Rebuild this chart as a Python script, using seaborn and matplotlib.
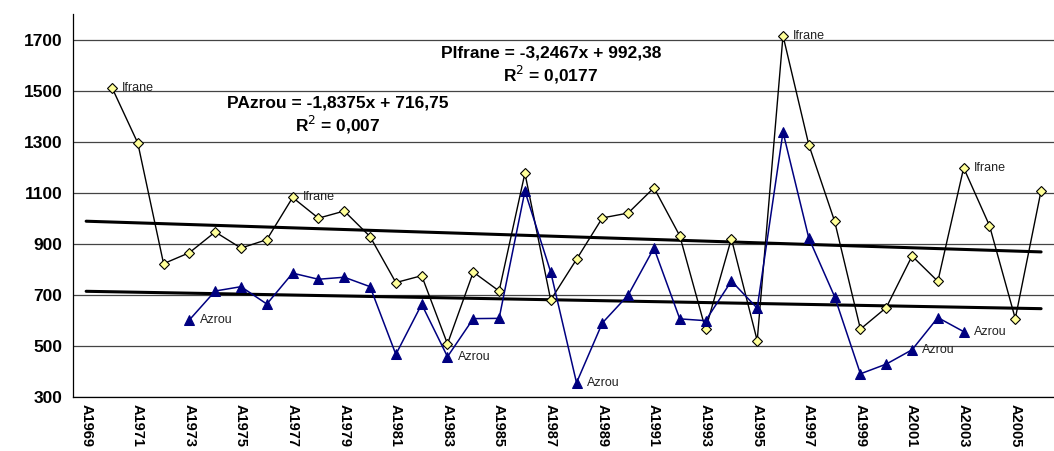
import numpy as np
import pandas as pd
import matplotlib
matplotlib.use("Agg")
import matplotlib.pyplot as plt
import seaborn as sns

# categories A1969 .. A2006
years = [f"A{y}" for y in range(1969, 2007)]

# Ifrane starts at A1970, Azrou at A1973
ifrane = [None, 1512, 1295, 823, 866, 947, 884, 917, 1082, 1001, 1029, 929,
          749, 776, 509, 790, 716, 1177, 681, 840, 1002, 1021, 1120, 932,
          566, 921, 522, 1715, 1288, 989, 567, 651, 853, 754, 1198, 972,
          608, 1109]
azrou = [None, None, None, None, 603, 716, 733, 665, 786, 762, 770, 733,
         468, 664, 459, 608, 609, 1107, 790, 357, 591, 700, 884, 607,
         600, 755, 649, 1338, 923, 694, 392, 430, 486, 612, 557]
azrou = azrou + [None] * (len(years) - len(azrou))

# Excel linear trends (x = 1..n)
trend_ifrane = (-3.2467, 992.38)
trend_azrou = (-1.8375, 716.75)

# point labels
ifrane_labels = ["A1970", "A1977", "A1996", "A2003"]
azrou_labels = ["A1973", "A1983", "A1988", "A2001", "A2003"]

df = pd.DataFrame({"year": years, "Ifrane": ifrane, "Azrou": azrou})
df["i"] = np.arange(len(df))
df = df.astype({"Ifrane": float, "Azrou": float})

sns.set_style("white")
plt.rcParams["font.family"] = ["Liberation Sans", "DejaVu Sans"]
plt.rcParams["text.color"] = "black"
plt.rcParams["xtick.color"] = "black"
plt.rcParams["ytick.color"] = "black"

fig = plt.figure(figsize=(10.54, 4.51), dpi=100)
ax = fig.add_axes([0.0695, 0.119, 0.9305, 0.850])

for y in range(300, 1701, 200):
    ax.axhline(y, color="#444444", lw=0.9, zorder=0)

# trend lines
xi = df["i"].values
for m, b in (trend_ifrane, trend_azrou):
    sns.lineplot(x=xi, y=m * (xi + 1) + b, color="black", lw=2.2, ax=ax,
                 zorder=2)

d_if = df.dropna(subset=["Ifrane"])
sns.lineplot(data=d_if, x="i", y="Ifrane", color="black", lw=1.0, ax=ax,
             marker="D", markersize=5, markerfacecolor="#FFFF99",
             markeredgecolor="black", markeredgewidth=0.8, zorder=3)
d_az = df.dropna(subset=["Azrou"])
sns.lineplot(data=d_az, x="i", y="Azrou", color="#000080", lw=1.1, ax=ax,
             marker="^", markersize=7, markerfacecolor="#000080",
             markeredgecolor="#000080", zorder=4)

for yr in ifrane_labels:
    r = df[df["year"] == yr].iloc[0]
    ax.text(r["i"] + 0.4, r["Ifrane"], "Ifrane", fontsize=9, color="#222222",
            va="center", ha="left")
for yr in azrou_labels:
    r = df[df["year"] == yr].iloc[0]
    ax.text(r["i"] + 0.4, r["Azrou"], "Azrou", fontsize=9, color="#222222",
            va="center", ha="left")

ax.text(18.0, 1598, "PIfrane = -3,2467x + 992,38\nR$^2$ = 0,0177",
        fontsize=12.5, fontweight="bold", ha="center", va="center",
        linespacing=1.2)
ax.text(9.75, 1402, "PAzrou = -1,8375x + 716,75\nR$^2$ = 0,007",
        fontsize=12.5, fontweight="bold", ha="center", va="center",
        linespacing=1.2)

ax.set_ylim(300, 1800)
ax.set_xlim(-0.5, 37.13)
ax.set_yticks(range(300, 1701, 200))
ax.set_yticklabels([str(v) for v in range(300, 1701, 200)],
                   fontsize=12.5, fontweight="bold")
ax.set_xticks(np.arange(-0.5, 38, 1))
ax.set_xticklabels([])
ax.set_xticks(np.arange(0, 38, 2), minor=True)
ax.set_xticklabels(years[::2], minor=True, rotation=-90, fontsize=10.5,
                   fontweight="bold", va="top", ha="center")
ax.tick_params(axis="x", which="major", length=5, width=0.8, color="black",
               direction="out")
ax.tick_params(axis="x", which="minor", length=0, pad=5)
ax.tick_params(axis="y", length=4, width=0.8, color="black", direction="out",
               pad=4)
ax.set_xlabel("")
ax.set_ylabel("")
for s in ["top", "right"]:
    ax.spines[s].set_visible(False)
for s in ["left", "bottom"]:
    ax.spines[s].set_color("black")
    ax.spines[s].set_linewidth(0.9)

fig.savefig("out.png", dpi=100)
